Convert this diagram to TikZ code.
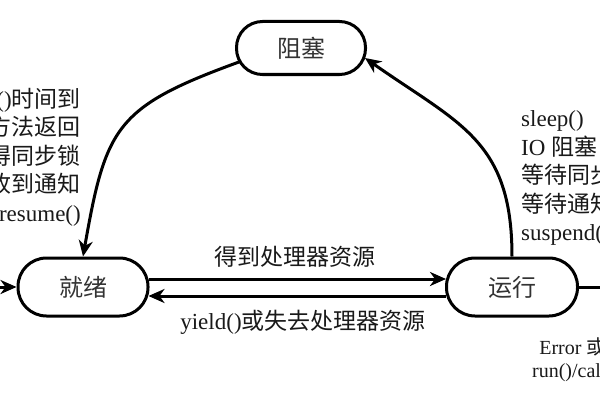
\documentclass[tikz,border=0pt]{standalone}
\usepackage{fontspec}
\setmainfont{Liberation Serif}
\newfontfamily\cjk{Noto Sans CJK SC}
\usetikzlibrary{arrows.meta,calc}
\newcommand\zh[1]{{\cjk #1}}
\begin{document}
\begin{tikzpicture}[x=1pt,y=1pt,
  state/.style={draw, line width=3pt, minimum width=130pt, minimum height=58pt, rounded corners=28.5pt, font=\fontsize{24}{28}\selectfont\cjk, text=black!80},
  edge/.style={line width=3pt, -{Stealth[length=16pt,width=14pt,inset=5pt]}},
  plain/.style={line width=3pt},
  lbl/.style={font=\fontsize{23}{28.5}\selectfont, text=black!90, inner sep=0pt}]
\clip (0,0) rectangle (600,400);
\node[state, minimum width=129pt, minimum height=53pt, rounded corners=26pt] (blk) at (301,352) {阻塞};
\node[state] (rdy) at (83,113) {就绪};
\node[state, minimum width=131pt] (run) at (512,113) {运行};
\coordinate (inL) at (-6,113);
\coordinate (outR) at (606,113);
\draw[edge] (inL) -- (rdy.west);
\draw[plain] (run.east) -- (outR);
\draw[edge] ($(rdy.east)+(-1,8)$) -- ($(run.west)+(1,8)$);
\draw[edge] ($(run.west)+(1,-9)$) -- ($(rdy.east)+(-1,-9)$);
\draw[edge] ($(blk.west)+(4,-14)$) to[out=200,in=80,looseness=1.35] (rdy.north);
\draw[edge] (run.north) to[out=90,in=-35,looseness=1.2] ($(blk.east)+(-2,-10)$);
\node[lbl] (l1) at (295,143) {\zh{得到处理器资源}};
\node[lbl] (l2) at (303,78) {yield()\zh{或失去处理器资源}};
\node[lbl, align=right, anchor=east] (lt) at (81,243) {sleep()\zh{时间到}\\join()\zh{方法返回}\\\zh{获得同步锁}\\\zh{收到通知}\\resume()};
\node[lbl, align=left, anchor=west] (rt) at (521,222) {sleep()\\IO \zh{阻塞}\\\zh{等待同步锁}\\\zh{等待通知}\\suspend()};
\node[lbl, font=\fontsize{20}{23}\selectfont, align=center] (bt) at (616,40) {Error \zh{或} Exception\\run()/call()\zh{执行完成}};
\end{tikzpicture}
\end{document}
